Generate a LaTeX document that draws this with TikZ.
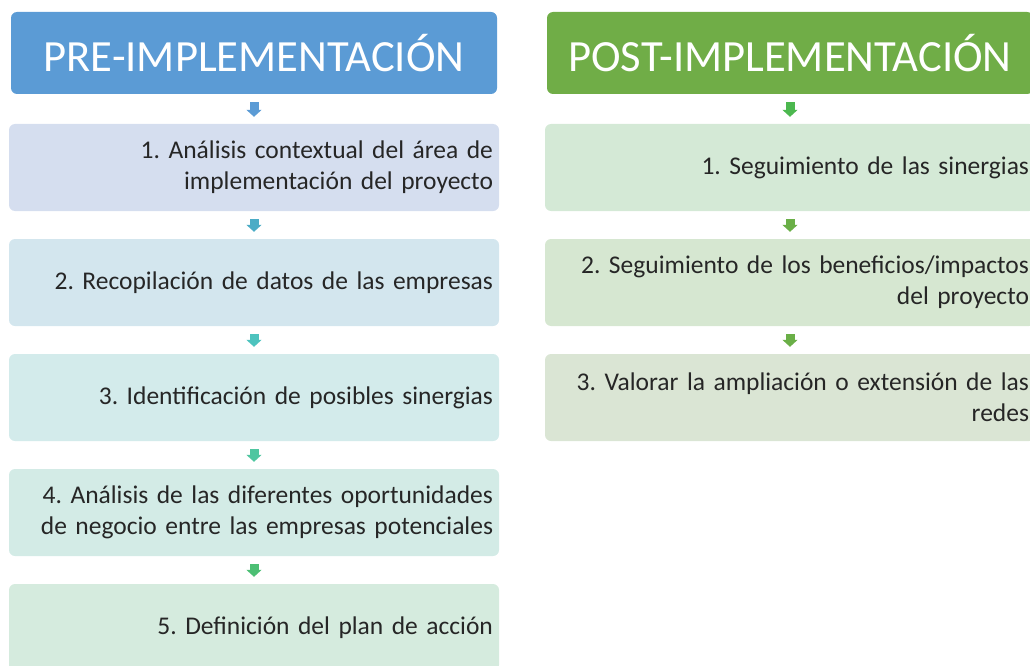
\documentclass[tikz,border=0pt]{standalone}
\usepackage{fontspec}
\setmainfont{Carlito}
\usetikzlibrary{arrows.meta}
\frenchspacing

\definecolor{hdrblue}{HTML}{5B9BD5}
\definecolor{hdrgreen}{HTML}{70AD47}
\definecolor{txtgray}{HTML}{262626}
\definecolor{fillA}{HTML}{D5DEEF}
\definecolor{fillB}{HTML}{D3E6EE}
\definecolor{fillC}{HTML}{D3EBEB}
\definecolor{fillD}{HTML}{D3EBE6}
\definecolor{fillE}{HTML}{D5EBDE}
\definecolor{fillF}{HTML}{D4E9D6}
\definecolor{fillG}{HTML}{D6E7D1}
\definecolor{fillH}{HTML}{DAE5D4}
\definecolor{arrA}{HTML}{5B9BD5}
\definecolor{arrB}{HTML}{4BACC6}
\definecolor{arrC}{HTML}{4DC3BE}
\definecolor{arrD}{HTML}{4FC6A0}
\definecolor{arrE}{HTML}{4CBF74}
\definecolor{arrF}{HTML}{4CB84F}
\definecolor{arrG}{HTML}{6AAF47}

\tikzset{
  header/.style={rounded corners=6pt, minimum width=486pt, minimum height=82pt,
    text=white, font=\fontsize{44.6}{50}\selectfont},
  stepbox/.style={rounded corners=6pt, minimum width=490pt, minimum height=87pt,
    text width=478pt, inner xsep=6pt, align=right, text=txtgray,
    font=\fontsize{25.5}{31}\selectfont},
  flecha/.style={line width=9pt, -{Triangle[width=15pt,length=7pt]},
    shorten <=8pt, shorten >=7pt}
}

\begin{document}
\begin{tikzpicture}[x=1pt, y=-1pt]
    \useasboundingbox (0,0) rectangle (1030,666);

    % Cabeceras
    \node[header, fill=hdrblue] (pre) at (254,53) {PRE-IMPLEMENTACIÓN};
    \node[header, fill=hdrgreen] (post) at (790,53) {POST-IMPLEMENTACIÓN};

    % Pasos pre-implementacion
    \node[stepbox, fill=fillA] (pre1) at (254,167.5) {1. Análisis contextual del área de\\implementación del proyecto};
    \node[stepbox, fill=fillB] (pre2) at (254,282.5) {2. Recopilación de datos de las empresas};
    \node[stepbox, fill=fillC] (pre3) at (254,397.5) {3. Identificación de posibles sinergias};
    \node[stepbox, fill=fillD] (pre4) at (254,512.5) {4. Análisis de las diferentes oportunidades\\de negocio entre las empresas potenciales};
    \node[stepbox, fill=fillE] (pre5) at (254,627.5) {5. Definición del plan de acción};

    % Pasos post-implementacion
    \node[stepbox, fill=fillF] (post1) at (790,167.5) {1. Seguimiento de las sinergias};
    \node[stepbox, fill=fillG] (post2) at (790,282.5) {2. Seguimiento de los beneficios/impactos\\del proyecto};
    \node[stepbox, fill=fillH] (post3) at (790,397.5) {3. Valorar la ampliación o extensión de las\\redes};

    % Flechas
    \draw[flecha, arrA] (pre) -- (pre1);
    \draw[flecha, arrB] (pre1) -- (pre2);
    \draw[flecha, arrC] (pre2) -- (pre3);
    \draw[flecha, arrD] (pre3) -- (pre4);
    \draw[flecha, arrE] (pre4) -- (pre5);
    \draw[flecha, arrF] (post) -- (post1);
    \draw[flecha, arrG] (post1) -- (post2);
    \draw[flecha, arrG] (post2) -- (post3);
\end{tikzpicture}
\end{document}
